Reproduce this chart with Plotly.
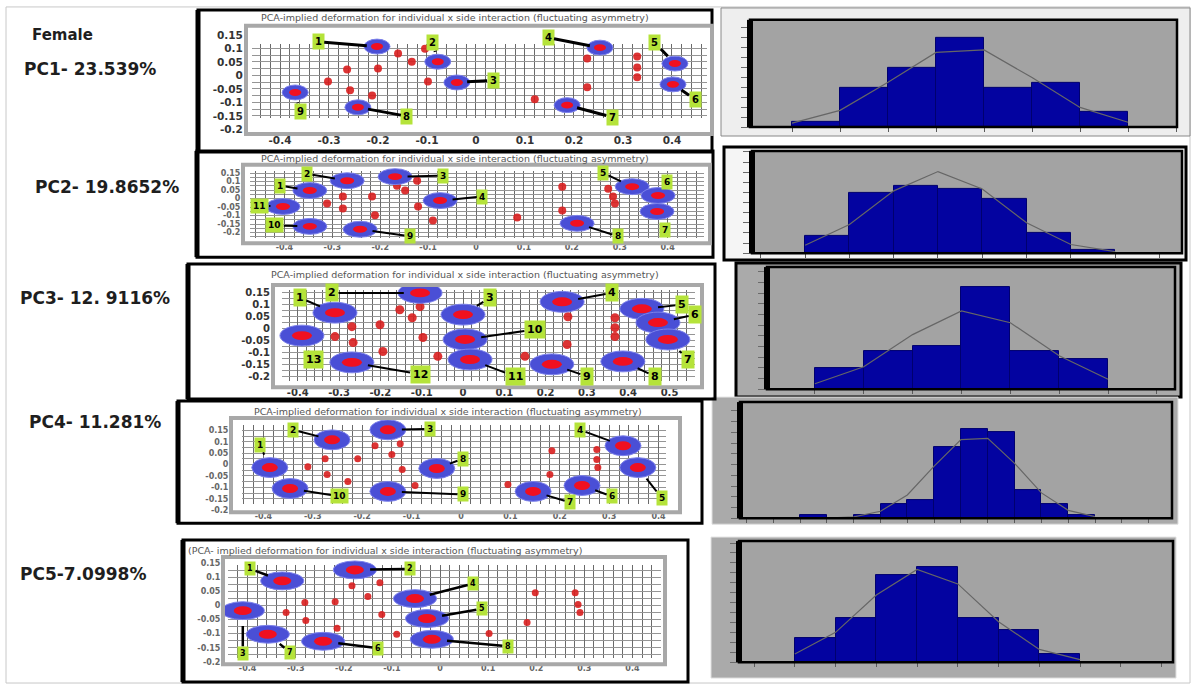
import math
import plotly.graph_objects as go

W, H = 1194, 691

# ---------------- data ----------------
header_text = "Female"
row_labels = ["PC1- 23.539%", "PC2- 19.8652%", "PC3- 12. 9116%", "PC4- 11.281%", "PC5-7.0998%"]
title_std = "PCA-implied deformation for individual x side interaction (fluctuating asymmetry)"
title_pc5 = "(PCA- implied deformation for individual x side interaction (fluctuating asymmetry)"
panel_titles = [title_std, title_std, title_std, title_std, title_pc5]

y_tick_vals = [0.15, 0.1, 0.05, 0, -0.05, -0.1, -0.15, -0.2]
y_tick_text = ["0.15", "0.1", "0.05", "0", "-0.05", "-0.1", "-0.15", "-0.2"]
x_tick_vals = [-0.4, -0.3, -0.2, -0.1, 0, 0.1, 0.2, 0.3, 0.4]
x_tick_text = ["-0.4", "-0.3", "-0.2", "-0.1", "0", "0.1", "0.2", "0.3", "0.4"]
x_tick_vals_pc3 = [-0.4, -0.3, -0.2, -0.1, 0, 0.1, 0.2, 0.3, 0.4, 0.5]
x_tick_text_pc3 = ["-0.4", "-0.3", "-0.2", "-0.1", "0", "0.1", "0.2", "0.3", "0.4", "0.5"]

# PC1
pc1_ell_x = [-0.202, -0.078, -0.039, 0.253, 0.406, 0.402, 0.186, -0.241, -0.369]
pc1_ell_y = [0.107, 0.051, -0.026, 0.103, 0.044, -0.033, -0.110, -0.118, -0.063]
pc1_lab_x = [-0.322, -0.088, 0.035, 0.147, 0.365, 0.447, 0.278, -0.141, -0.359]
pc1_lab_y = [0.125, 0.121, -0.018, 0.140, 0.121, -0.088, -0.154, -0.151, -0.132]
pc1_lab_txt = ["1", "2", "3", "4", "5", "6", "7", "8", "9"]
pc1_pts_x = [-0.302, -0.263, -0.257, -0.212, -0.200, -0.159, -0.131, -0.104, -0.098, 0.120, 0.227, 0.227, 0.329, 0.329, 0.329]
pc1_pts_y = [-0.022, 0.022, -0.055, -0.074, 0.026, 0.081, 0.051, 0.099, -0.022, -0.088, 0.063, -0.044, 0.070, 0.029, -0.007]

# PC2
pc2_ell_x = [-0.347, -0.269, -0.169, -0.075, 0.326, 0.380, 0.378, 0.211, -0.242, -0.347, -0.403]
pc2_ell_y = [0.047, 0.105, 0.129, -0.012, 0.070, 0.018, -0.076, -0.146, -0.181, -0.164, -0.047]
pc2_lab_x = [-0.409, -0.353, -0.069, 0.013, 0.265, 0.399, 0.395, 0.296, -0.138, -0.420, -0.451]
pc2_lab_y = [0.076, 0.146, 0.135, 0.012, 0.152, 0.099, -0.187, -0.222, -0.222, -0.158, -0.041]
pc2_lab_txt = ["1", "2", "3", "4", "5", "6", "7", "8", "9", "10", "11"]
pc2_pts_x = [-0.311, -0.278, -0.278, -0.217, -0.211, -0.165, -0.148, -0.123, -0.121, -0.090, 0.086, 0.180, 0.180, 0.276, 0.286, 0.290]
pc2_pts_y = [-0.029, 0.012, -0.058, 0.012, -0.099, 0.076, 0.047, 0.105, -0.047, -0.129, -0.111, 0.070, -0.070, 0.058, 0.012, -0.029]

# PC3
pc3_ell_x = [-0.310, -0.104, 0.000, 0.240, 0.433, 0.472, 0.496, 0.387, 0.215, 0.005, 0.017, -0.269, -0.390]
pc3_ell_y = [0.066, 0.148, 0.058, 0.111, 0.082, 0.025, -0.045, -0.136, -0.148, -0.045, -0.128, -0.140, -0.029]
pc3_lab_x = [-0.395, -0.317, 0.065, 0.361, 0.530, 0.562, 0.545, 0.465, 0.300, 0.174, 0.126, -0.104, -0.363]
pc3_lab_y = [0.128, 0.148, 0.128, 0.148, 0.099, 0.058, -0.128, -0.198, -0.198, -0.004, -0.198, -0.189, -0.128]
pc3_lab_txt = ["1", "2", "3", "4", "5", "6", "7", "8", "9", "10", "11", "12", "13"]
pc3_pts_x = [-0.310, -0.269, -0.266, -0.201, -0.194, -0.153, -0.123, -0.104, -0.097, -0.061, 0.150, 0.254, 0.252, 0.368, 0.368, 0.368]
pc3_pts_y = [-0.033, 0.008, -0.058, 0.016, -0.095, 0.078, 0.045, 0.091, -0.037, -0.115, -0.115, 0.049, -0.066, 0.045, 0.004, -0.033]

# PC4
pc4_ell_x = [-0.387, -0.261, -0.148, 0.328, 0.358, 0.245, 0.146, -0.049, -0.148, -0.346]
pc4_ell_y = [-0.013, 0.109, 0.153, 0.083, -0.013, -0.092, -0.118, -0.017, -0.118, -0.105]
pc4_lab_x = [-0.407, -0.340, -0.063, 0.241, 0.407, 0.306, 0.221, 0.004, 0.004, -0.245]
pc4_lab_y = [0.087, 0.153, 0.157, 0.153, -0.148, -0.140, -0.166, 0.026, -0.131, -0.140]
pc4_lab_txt = ["1", "2", "3", "4", "5", "6", "7", "8", "9", "10"]
pc4_pts_x = [-0.310, -0.271, -0.275, -0.229, -0.209, -0.174, -0.140, -0.123, -0.119, -0.093, 0.095, 0.184, 0.180, 0.275, 0.275, 0.277]
pc4_pts_y = [-0.009, -0.044, 0.026, -0.074, 0.026, 0.083, 0.044, 0.092, -0.022, -0.092, -0.087, 0.061, -0.044, 0.066, 0.022, -0.013]

# PC5
pc5_ell_x = [-0.328, -0.177, -0.410, -0.052, -0.027, -0.243, -0.358, -0.017]
pc5_ell_y = [0.088, 0.127, -0.018, 0.025, -0.046, -0.127, -0.102, -0.120]
pc5_lab_x = [-0.395, -0.062, -0.410, 0.069, 0.087, -0.129, -0.312, 0.141]
pc5_lab_y = [0.131, 0.131, -0.170, 0.078, -0.011, -0.152, -0.166, -0.145]
pc5_lab_txt = ["1", "2", "3", "4", "5", "6", "7", "8"]
pc5_pts_x = [-0.320, -0.281, -0.279, -0.218, -0.214, -0.183, -0.150, -0.125, -0.121, -0.090, 0.102, 0.198, 0.181, 0.281, 0.287, 0.291]
pc5_pts_y = [-0.025, 0.011, -0.053, 0.014, -0.081, 0.071, 0.032, 0.081, -0.032, -0.102, -0.099, 0.046, -0.060, 0.046, 0.004, -0.025]

# histogram counts (per bin)
h1_counts = [1, 8, 12, 18, 8, 9, 3]
h2_counts = [5, 18, 20, 19, 16, 6, 1]
h3_counts = [5, 9, 10, 24, 9, 7]
h4_counts = [1, 0, 1, 4, 5, 20, 25, 24, 8, 4, 1]
h5_counts = [6, 11, 22, 24, 11, 8, 2]

# ---------------- styles / layout geometry (pixels) ----------------
pca_style = [
    dict(frame=(198, 10, 712, 153), box=(248, 28, 710, 133), xr=(-0.4653, 0.4776), yr=(-0.2096, 0.1765),
         grid=(252, 44, 707, 119), title=(455, 18, 'center'), tick=10.5, tickc='#333', ell=(26, 15), red=(12, 7),
         lab=10, arrow=3, pt=8),
    dict(frame=(197, 152, 713, 259), box=(245, 168, 708, 243), xr=(-0.4823, 0.4843), yr=(-0.2515, 0.1871),
         grid=(250, 172, 704, 240), title=(455, 160, 'center'), tick=8, tickc='#666', ell=(34, 16), red=(14, 7),
         lab=9, arrow=2, pt=8),
    dict(frame=(188, 266, 715, 402), box=(275, 289, 700, 388), xr=(-0.4552, 0.5738), yr=(-0.2346, 0.1728),
         grid=(282, 292, 695, 384), title=(465, 277, 'center'), tick=10, tickc='#333', ell=(44, 21), red=(20, 9),
         lab=11, arrow=2, pt=9),
    dict(frame=(178, 404, 702, 527), box=(233, 423, 678, 514), xr=(-0.4615, 0.4393), yr=(-0.2009, 0.1965),
         grid=(242, 428, 666, 508), title=(448, 415, 'center'), tick=8, tickc='#666', ell=(36, 20), red=(16, 9),
         lab=9, arrow=2, pt=7),
    dict(frame=(183, 544, 688, 687), box=(225, 563, 663, 667), xr=(-0.447, 0.4636), yr=(-0.2014, 0.1661),
         grid=(228, 569, 661, 663), title=(186, 555, 'left'), tick=8, tickc='#666', ell=(43, 18), red=(18, 9),
         lab=8, arrow=2.5, pt=7),
]

hist_style = [
    dict(outer=(721, 8, 1190, 137), ofill='#eeeeee', oline='#888888', ow=1,
         box=(750, 20, 1177, 128), xr=(-1.375, 7.52), ymax=21.6, ydt=2),
    dict(outer=(724, 148, 1186, 262), ofill='#f5f5f5', oline='black', ow=3,
         box=(752, 152, 1182, 255), xr=(-1.7, 8.01), ymax=30.3, ydt=3),
    dict(outer=(736, 265, 1181, 400), ofill='#aaaaaa', oline='black', ow=3,
         box=(767, 269, 1175, 392), xr=(-1.48, 6.87), ymax=28.6, ydt=2.5),
    dict(outer=(712, 400, 1178, 528), ofill='#aaaaaa', oline='#e0e0e0', ow=1,
         box=(740, 405, 1172, 522), xr=(-2.74, 13.37), ymax=32.5, ydt=3),
    dict(outer=(711, 541, 1176, 683), ofill='#aaaaaa', oline='#e0e0e0', ow=1,
         box=(739, 545, 1173, 667), xr=(-1.87, 8.78), ymax=30.5, ydt=2.5),
]

label_pos = [(30, 35, 15), (22, 70, 17), (33, 188, 17), (18, 300, 17), (27, 425, 17), (18, 578, 17)]

LABEL_GREEN = '#b5e33a'
ELL_BLUE = '#4a4fd6'
ELL_RED = '#f01020'
PT_RED = '#d81e1e'
BAR_BLUE = '#0303a0'
HIST_BG = '#a3a3a3'
GRID_V = '#6a6a6a'
GRID_H = '#959595'
BOX_GREY = '#a8a8a8'


def dom_x(x0, x1):
    return [x0 / W, x1 / W]


def dom_y(y0, y1):
    return [1 - y1 / H, 1 - y0 / H]


def rect_paper(x0, y0, x1, y1, **kw):
    return dict(type='rect', xref='paper', yref='paper', x0=x0 / W, x1=x1 / W,
                y0=1 - y1 / H, y1=1 - y0 / H, **kw)


def line_paper(x0, y0, x1, y1, **kw):
    return dict(type='line', xref='paper', yref='paper', x0=x0 / W, x1=x1 / W,
                y0=1 - y0 / H, y1=1 - y1 / H, **kw)


fig = go.Figure()
lay = dict(width=W, height=H, autosize=False, margin=dict(l=0, r=0, t=0, b=0),
           paper_bgcolor='white', plot_bgcolor='rgba(0,0,0,0)', showlegend=False,
           font=dict(family='DejaVu Sans', color='#222'), bargap=0)
shapes = []
annos = []

# overall faint frame
shapes.append(rect_paper(6, 7, 1190, 688, line=dict(color='#c8c8c8', width=1), layer='below'))

pca_sets = [
    (pc1_ell_x, pc1_ell_y, pc1_lab_x, pc1_lab_y, pc1_lab_txt, pc1_pts_x, pc1_pts_y, x_tick_vals, x_tick_text),
    (pc2_ell_x, pc2_ell_y, pc2_lab_x, pc2_lab_y, pc2_lab_txt, pc2_pts_x, pc2_pts_y, x_tick_vals, x_tick_text),
    (pc3_ell_x, pc3_ell_y, pc3_lab_x, pc3_lab_y, pc3_lab_txt, pc3_pts_x, pc3_pts_y, x_tick_vals_pc3, x_tick_text_pc3),
    (pc4_ell_x, pc4_ell_y, pc4_lab_x, pc4_lab_y, pc4_lab_txt, pc4_pts_x, pc4_pts_y, x_tick_vals, x_tick_text),
    (pc5_ell_x, pc5_ell_y, pc5_lab_x, pc5_lab_y, pc5_lab_txt, pc5_pts_x, pc5_pts_y, x_tick_vals, x_tick_text),
]

for i, (st, ds) in enumerate(zip(pca_style, pca_sets)):
    n = i + 1
    sfx = '' if n == 1 else str(n)
    xname, yname = 'x' + sfx, 'y' + sfx
    gsfx = str(11 + i)                      # companion axes that carry only the deformation grid
    gxname, gyname = 'x' + gsfx, 'y' + gsfx
    bx0, by0, bx1, by1 = st['box']
    ex, ey, lx, ly, lt, ptx, pty, xtv, xtt = ds
    sx = (bx1 - bx0) / (st['xr'][1] - st['xr'][0])
    sy = (by1 - by0) / (st['yr'][1] - st['yr'][0])

    # outer black frame and grey plot border
    fx0, fy0, fx1, fy1 = st['frame']
    shapes.append(rect_paper(fx0, fy0, fx1, fy1, line=dict(color='black', width=3), layer='above'))
    shapes.append(line_paper(fx0, fy0, fx0, fy1, line=dict(color='black', width=5), layer='above'))
    shapes.append(rect_paper(bx0 - 2, by0 - 2, bx1 + 2, by1 + 2, line=dict(color=BOX_GREY, width=4), layer='above'))

    tfont = dict(size=st['tick'], color=st['tickc'], weight='bold')
    lay['xaxis' + sfx] = dict(
        domain=dom_x(bx0, bx1), range=list(st['xr']), anchor=yname,
        tickmode='array', tickvals=xtv, ticktext=xtt, showgrid=False,
        zeroline=False, showline=False, ticks='', tickfont=tfont, fixedrange=True)
    lay['yaxis' + sfx] = dict(
        domain=dom_y(by0, by1), range=list(st['yr']), anchor=xname,
        tickmode='array', tickvals=y_tick_vals, ticktext=y_tick_text, showgrid=False,
        zeroline=False, showline=False, ticks='outside', ticklen=2, tickcolor='rgba(0,0,0,0)',
        tickfont=tfont, fixedrange=True)

    # grid axes: same scale, narrower domain (the deformation grid region)
    gx0, gy0, gx1, gy1 = st['grid']
    gxr = [st['xr'][0] + (gx0 - bx0) / sx, st['xr'][0] + (gx1 - bx0) / sx]
    gyr = [st['yr'][1] - (gy1 - by0) / sy, st['yr'][1] - (gy0 - by0) / sy]
    lay['xaxis' + gsfx] = dict(
        domain=dom_x(gx0, gx1), range=gxr, anchor=gyname,
        tickmode='linear', tick0=0, dtick=0.1, showticklabels=False, ticks='',
        showgrid=True, gridcolor=GRID_V, gridwidth=1,
        minor=dict(tickmode='linear', tick0=0, dtick=0.02, showgrid=True, gridcolor=GRID_V, gridwidth=1),
        zeroline=False, showline=False, fixedrange=True)
    lay['yaxis' + gsfx] = dict(
        domain=dom_y(gy0, gy1), range=gyr, anchor=gxname,
        tickmode='linear', tick0=0, dtick=0.05, showticklabels=False, ticks='',
        showgrid=True, gridcolor=GRID_H, gridwidth=1,
        minor=dict(tickmode='linear', tick0=0, dtick=0.025, showgrid=True, gridcolor=GRID_H, gridwidth=1),
        zeroline=False, showline=False, fixedrange=True)

    # invisible anchors for the main axes (ellipse centres)
    fig.add_trace(go.Scatter(x=ex, y=ey, xaxis=xname, yaxis=yname, mode='markers',
                             marker=dict(size=1, opacity=0), hoverinfo='skip'))
    # small red landmark points (drawn above the grid)
    fig.add_trace(go.Scatter(x=ptx, y=pty, xaxis=gxname, yaxis=gyname, mode='markers',
                             cliponaxis=False,
                             marker=dict(size=st['pt'], color=PT_RED, opacity=0.9, line=dict(width=0)),
                             hoverinfo='skip'))

    ew, eh = st['ell'][0] / sx, st['ell'][1] / sy
    rw, rh = st['red'][0] / sx, st['red'][1] / sy
    for cx, cy, tx, ty, txt in zip(ex, ey, lx, ly, lt):
        shapes.append(dict(type='circle', xref=xname, yref=yname,
                           x0=cx - ew / 2, x1=cx + ew / 2, y0=cy - eh / 2, y1=cy + eh / 2,
                           fillcolor=ELL_BLUE, line=dict(color='#7d82ea', width=1), layer='above'))
        shapes.append(dict(type='circle', xref=xname, yref=yname,
                           x0=cx - rw / 2, x1=cx + rw / 2, y0=cy - rh / 2, y1=cy + rh / 2,
                           fillcolor=ELL_RED, line=dict(width=0), layer='above'))
        annos.append(dict(x=cx, y=cy, xref=xname, yref=yname, ax=tx, ay=ty,
                          axref=xname, ayref=yname, text=txt, showarrow=True,
                          arrowhead=0, arrowwidth=st['arrow'], arrowcolor='black',
                          standoff=(st['ell'][0] + st['ell'][1]) / 4,
                          bgcolor=LABEL_GREEN, borderpad=2,
                          font=dict(size=st['lab'], color='black', weight='bold')))

    # panel title
    tx_, ty_, tanchor = st['title']
    annos.append(dict(x=tx_ / W, y=1 - ty_ / H, xref='paper', yref='paper',
                      text=panel_titles[i], showarrow=False, xanchor=tanchor, yanchor='middle',
                      font=dict(size=9.5, color='#555555')))

# ---------------- histograms ----------------
hist_sets = [h1_counts, h2_counts, h3_counts, h4_counts, h5_counts]
for j, (hs, counts) in enumerate(zip(hist_style, hist_sets)):
    n = 6 + j
    sfx = str(n)
    xname, yname = 'x' + sfx, 'y' + sfx
    bx0, by0, bx1, by1 = hs['box']
    ox0, oy0, ox1, oy1 = hs['outer']
    shapes.append(rect_paper(ox0, oy0, ox1, oy1, fillcolor=hs['ofill'],
                             line=dict(color=hs['oline'], width=hs['ow']), layer='below'))
    shapes.append(rect_paper(bx0, by0, bx1, by1, fillcolor=HIST_BG, line=dict(width=0), layer='below'))

    lay['xaxis' + sfx] = dict(domain=dom_x(bx0, bx1), range=list(hs['xr']), anchor=yname,
                              tickmode='linear', tick0=-0.5, dtick=1, ticks='outside', ticklen=4,
                              tickcolor='#5a5a5a', showticklabels=False, showgrid=False,
                              zeroline=False, showline=False, fixedrange=True)
    lay['yaxis' + sfx] = dict(domain=dom_y(by0, by1), range=[0, hs['ymax']], anchor=xname,
                              tickmode='linear', tick0=0, dtick=hs['ydt'], ticks='outside', ticklen=8,
                              tickcolor='#6a6a6a', showticklabels=False, showgrid=False,
                              zeroline=False, showline=False, fixedrange=True)

    idx = list(range(len(counts)))
    fig.add_trace(go.Bar(x=idx, y=counts, width=1, xaxis=xname, yaxis=yname,
                         marker=dict(color=BAR_BLUE, line=dict(color='#00006e', width=1)),
                         hoverinfo='skip'))

    # fitted normal curve evaluated at the bin edges
    total = sum(counts)
    mean = sum(k * c for k, c in zip(idx, counts)) / total
    sd = math.sqrt(sum(c * (k - mean) ** 2 for k, c in zip(idx, counts)) / total)
    edges = [k - 0.5 for k in range(len(counts) + 1)]
    curve = [total / (sd * math.sqrt(2 * math.pi)) * math.exp(-0.5 * ((e - mean) / sd) ** 2) for e in edges]
    fig.add_trace(go.Scatter(x=edges, y=curve, xaxis=xname, yaxis=yname, mode='lines',
                             line=dict(color='#666666', width=1.2), hoverinfo='skip'))

    shapes.append(rect_paper(bx0, by0, bx1, by1, line=dict(color='black', width=2.5), layer='above'))
    shapes.append(line_paper(bx0, by0, bx0, by1, line=dict(color='black', width=6), layer='above'))

# ---------------- left column labels ----------------
all_labels = [header_text] + row_labels
for (lxp, lyp, fs), txt in zip(label_pos, all_labels):
    annos.append(dict(x=lxp / W, y=1 - lyp / H, xref='paper', yref='paper', text=txt,
                      showarrow=False, xanchor='left', yanchor='middle',
                      font=dict(size=fs, color='#1e1e1e', weight='bold', family='DejaVu Sans')))

lay['shapes'] = shapes
lay['annotations'] = annos
fig.update_layout(**lay)

fig.write_html("out.html", config={'displayModeBar': False},
               post_script="document.body.style.margin='0';document.body.style.overflow='hidden';")
